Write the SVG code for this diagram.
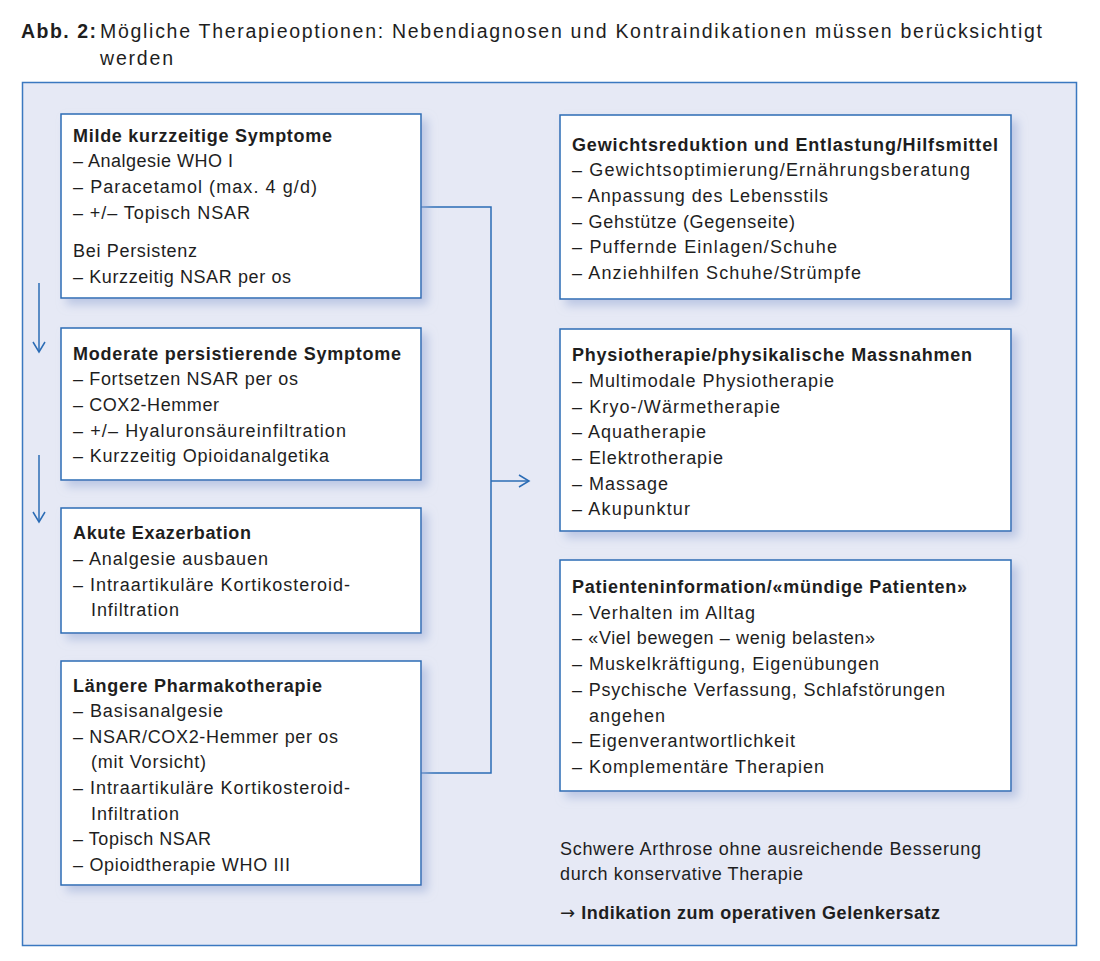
<svg xmlns="http://www.w3.org/2000/svg" width="1100" height="961" viewBox="0 0 1100 961">
<style>
text{font-family:"Liberation Sans",Arial,sans-serif;font-size:18px;fill:#1e1e1e}
.b{font-weight:bold}
.t{font-size:19.5px}
.box{fill:#fff;stroke:#2b6cb5;stroke-width:1.5}
.con{fill:none;stroke:#2b6cb5;stroke-width:1.5}
</style>
<defs>
<filter id="sh" x="-10%" y="-10%" width="130%" height="130%">
<feGaussianBlur in="SourceAlpha" stdDeviation="5"/>
<feOffset dx="6" dy="6" result="o"/>
<feFlood flood-color="#9fb0d8" flood-opacity="0.6"/>
<feComposite in2="o" operator="in"/>
<feMerge><feMergeNode/><feMergeNode in="SourceGraphic"/></feMerge>
</filter>
<marker id="ah" markerWidth="14" markerHeight="14" refX="11" refY="7" orient="auto" markerUnits="userSpaceOnUse">
<path d="M1,1 L11,7 L1,13" fill="none" stroke="#2b6cb5" stroke-width="1.5"/>
</marker>
</defs>
<rect width="1100" height="961" fill="#fff"/>
<g id="title">
<text x="21" y="38" class="t b" textLength="75" lengthAdjust="spacing">Abb. 2:</text>
<text x="100" y="38" class="t" textLength="942" lengthAdjust="spacing">Mögliche Therapieoptionen: Nebendiagnosen und Kontraindikationen müssen berücksichtigt</text>
<text x="100" y="65" class="t" textLength="73" lengthAdjust="spacing">werden</text>
</g>
<rect id="panel" x="22.5" y="82.5" width="1054" height="863" fill="#e6e9f5" stroke="#3a78c0" stroke-width="1.5"/>
<g id="connectors">
<path class="con" d="M421,207 H491 V773 H421"/>
<path class="con" d="M491,481 H529" marker-end="url(#ah)"/>
<path class="con" d="M39,283 V352" marker-end="url(#ah)"/>
<path class="con" d="M39,455 V522" marker-end="url(#ah)"/>
</g>
<g id="n1">
<rect class="box" x="61" y="114" width="360" height="184" filter="url(#sh)"/>
<text x="73" y="142" class="b" textLength="259" lengthAdjust="spacing">Milde kurzzeitige Symptome</text>
<text x="73" y="167" textLength="160" lengthAdjust="spacing">– Analgesie WHO I</text>
<text x="73" y="193" textLength="244" lengthAdjust="spacing">– Paracetamol (max. 4 g/d)</text>
<text x="73" y="219" textLength="177" lengthAdjust="spacing">– +/– Topisch NSAR</text>
<text x="73" y="257" textLength="124" lengthAdjust="spacing">Bei Persistenz</text>
<text x="73" y="283" textLength="218" lengthAdjust="spacing">– Kurzzeitig NSAR per os</text>
</g>
<g id="n2">
<rect class="box" x="61" y="328" width="360" height="152" filter="url(#sh)"/>
<text x="73" y="360" class="b" textLength="328" lengthAdjust="spacing">Moderate persistierende Symptome</text>
<text x="73" y="385" textLength="225" lengthAdjust="spacing">– Fortsetzen NSAR per os</text>
<text x="73" y="411" textLength="146" lengthAdjust="spacing">– COX2-Hemmer</text>
<text x="73" y="437" textLength="273" lengthAdjust="spacing">– +/– Hyaluronsäureinfiltration</text>
<text x="73" y="462" textLength="256" lengthAdjust="spacing">– Kurzzeitig Opioidanalgetika</text>
</g>
<g id="n3">
<rect class="box" x="61" y="508" width="360" height="125" filter="url(#sh)"/>
<text x="73" y="539" class="b" textLength="178" lengthAdjust="spacing">Akute Exazerbation</text>
<text x="73" y="565" textLength="195" lengthAdjust="spacing">– Analgesie ausbauen</text>
<text x="73" y="591" textLength="277" lengthAdjust="spacing">– Intraartikuläre Kortikosteroid-</text>
<text x="91" y="616" textLength="88" lengthAdjust="spacing">Infiltration</text>
</g>
<g id="n4">
<rect class="box" x="61" y="661" width="360" height="224" filter="url(#sh)"/>
<text x="73" y="692" class="b" textLength="249" lengthAdjust="spacing">Längere Pharmakotherapie</text>
<text x="73" y="717" textLength="150" lengthAdjust="spacing">– Basisanalgesie</text>
<text x="73" y="743" textLength="265" lengthAdjust="spacing">– NSAR/COX2-Hemmer per os</text>
<text x="91" y="768" textLength="115" lengthAdjust="spacing">(mit Vorsicht)</text>
<text x="73" y="794" textLength="277" lengthAdjust="spacing">– Intraartikuläre Kortikosteroid-</text>
<text x="91" y="820" textLength="88" lengthAdjust="spacing">Infiltration</text>
<text x="73" y="845" textLength="138" lengthAdjust="spacing">– Topisch NSAR</text>
<text x="73" y="871" textLength="217" lengthAdjust="spacing">– Opioidtherapie WHO III</text>
</g>
<g id="r1">
<rect class="box" x="560" y="115" width="451" height="184" filter="url(#sh)"/>
<text x="572" y="151" class="b" textLength="426" lengthAdjust="spacing">Gewichtsreduktion und Entlastung/Hilfsmittel</text>
<text x="572" y="176" textLength="398" lengthAdjust="spacing">– Gewichtsoptimierung/Ernährungsberatung</text>
<text x="572" y="202" textLength="256" lengthAdjust="spacing">– Anpassung des Lebensstils</text>
<text x="572" y="228" textLength="223" lengthAdjust="spacing">– Gehstütze (Gegenseite)</text>
<text x="572" y="253" textLength="265" lengthAdjust="spacing">– Puffernde Einlagen/Schuhe</text>
<text x="572" y="279" textLength="289" lengthAdjust="spacing">– Anziehhilfen Schuhe/Strümpfe</text>
</g>
<g id="r2">
<rect class="box" x="560" y="329" width="451" height="202" filter="url(#sh)"/>
<text x="572" y="361" class="b" textLength="400" lengthAdjust="spacing">Physiotherapie/physikalische Massnahmen</text>
<text x="572" y="387" textLength="262" lengthAdjust="spacing">– Multimodale Physiotherapie</text>
<text x="572" y="413" textLength="208" lengthAdjust="spacing">– Kryo-/Wärmetherapie</text>
<text x="572" y="438" textLength="134" lengthAdjust="spacing">– Aquatherapie</text>
<text x="572" y="464" textLength="151" lengthAdjust="spacing">– Elektrotherapie</text>
<text x="572" y="490" textLength="96" lengthAdjust="spacing">– Massage</text>
<text x="572" y="515" textLength="118" lengthAdjust="spacing">– Akupunktur</text>
</g>
<g id="r3">
<rect class="box" x="560" y="560" width="451" height="231" filter="url(#sh)"/>
<text x="572" y="593" class="b" textLength="395" lengthAdjust="spacing">Patienteninformation/«mündige Patienten»</text>
<text x="572" y="619" textLength="183" lengthAdjust="spacing">– Verhalten im Alltag</text>
<text x="572" y="644" textLength="303" lengthAdjust="spacing">– «Viel bewegen – wenig belasten»</text>
<text x="572" y="670" textLength="307" lengthAdjust="spacing">– Muskelkräftigung, Eigenübungen</text>
<text x="572" y="696" textLength="373" lengthAdjust="spacing">– Psychische Verfassung, Schlafstörungen</text>
<text x="589" y="722" textLength="76" lengthAdjust="spacing">angehen</text>
<text x="572" y="747" textLength="223" lengthAdjust="spacing">– Eigenverantwortlichkeit</text>
<text x="572" y="773" textLength="252" lengthAdjust="spacing">– Komplementäre Therapien</text>
</g>
<g id="footer">
<text x="560" y="855" textLength="421" lengthAdjust="spacing">Schwere Arthrose ohne ausreichende Besserung</text>
<text x="560" y="880" textLength="243" lengthAdjust="spacing">durch konservative Therapie</text>
<text x="560" y="919" class="b" textLength="380" lengthAdjust="spacing"><tspan style="font-family:'DejaVu Sans',sans-serif;font-weight:normal">→</tspan> Indikation zum operativen Gelenkersatz</text>
</g>
</svg>
